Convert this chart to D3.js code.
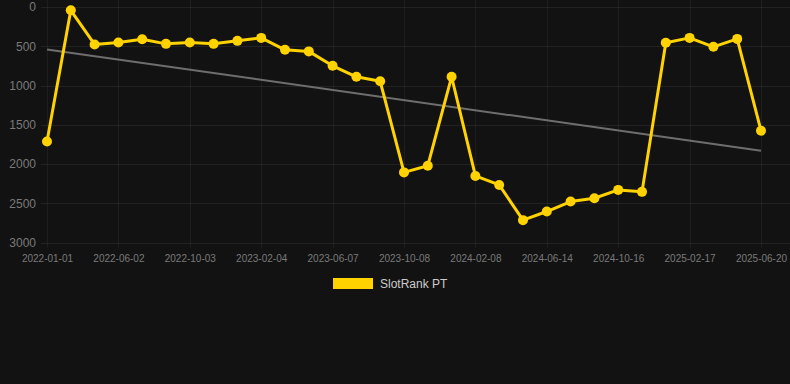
<!DOCTYPE html>
<html>
<head>
<meta charset="utf-8">
<script src="https://cdn.jsdelivr.net/npm/d3@7/dist/d3.min.js"></script>
<style>
  html, body { margin: 0; padding: 0; background: #121212; }
  svg { display: block; font-family: "Liberation Sans", Arial, sans-serif; }
</style>
</head>
<body>
<svg id="chart" width="790" height="384"></svg>
<script>
// Dates of each rank sample (only every third one is labelled on the axis)
const dates = [
    '2022-01-01', '2022-02-20', '2022-04-12', '2022-06-02', '2022-07-23', '2022-09-12',
    '2022-10-03', '2022-11-23', '2023-01-14', '2023-02-04', '2023-03-27', '2023-05-17',
    '2023-06-07', '2023-07-28', '2023-09-17', '2023-10-08', '2023-11-28', '2024-01-18',
    '2024-02-08', '2024-03-30', '2024-05-20', '2024-06-14', '2024-08-04', '2024-09-24',
    '2024-10-16', '2024-12-06', '2025-01-26', '2025-02-17', '2025-04-09', '2025-05-30',
    '2025-06-20'
];

// SlotRank PT values
const ranks = [
    1712, 42, 477, 451, 410, 469, 451, 469, 431, 393,
    545, 565, 748, 888, 946, 2105, 2020, 888, 2150, 2265,
    2713, 2603, 2476, 2434, 2328, 2353, 456, 393, 507, 406,
    1575
];

// Trend line, start and end values
const trend = [540, 1830];

const yTicks = [0, 500, 1000, 1500, 2000, 2500, 3000];
const seriesName = 'SlotRank PT';

const svg = d3.select('#chart');
const margin = { top: 7, right: 29, bottom: 141, left: 47 };
const width = +svg.attr('width');
const height = +svg.attr('height');

// Scales
const xScale = d3.scalePoint()
    .domain(dates)
    .range([margin.left, width - margin.right]);

const yScale = d3.scaleLinear()
    .domain([0, 3000])
    .range([margin.top, height - margin.bottom - 0.3]);

const labelled = dates.filter((d, i) => i % 3 === 0);

// Grid lines
svg.append('g')
    .selectAll('line')
    .data(yTicks)
    .join('line')
    .attr('x1', 41)
    .attr('x2', width)
    .attr('y1', d => Math.round(yScale(d)) + 0.5)
    .attr('y2', d => Math.round(yScale(d)) + 0.5)
    .attr('stroke', 'rgba(255,255,255,0.07)');

svg.append('g')
    .selectAll('line')
    .data(labelled)
    .join('line')
    .attr('x1', d => Math.round(xScale(d)) + 0.5)
    .attr('x2', d => Math.round(xScale(d)) + 0.5)
    .attr('y1', margin.top - 7)
    .attr('y2', yScale(3000) + 5)
    .attr('stroke', 'rgba(255,255,255,0.05)');

// Axes (text only)
const yAxis = svg.append('g')
    .attr('transform', `translate(${margin.left - 8},0)`)
    .call(d3.axisLeft(yScale).tickValues(yTicks).tickSize(0).tickFormat(d3.format('d')));
yAxis.select('.domain').remove();
yAxis.selectAll('text')
    .attr('fill', '#7a7a7a')
    .attr('font-size', 12);

const xAxis = svg.append('g')
    .attr('transform', `translate(0,${yScale(3000) + 9})`)
    .call(d3.axisBottom(xScale).tickValues(labelled).tickSize(0));
xAxis.select('.domain').remove();
xAxis.selectAll('text')
    .attr('fill', '#7a7a7a')
    .attr('font-size', 10)
    .attr('dy', '0.71em');

// Trend line
svg.append('line')
    .attr('x1', xScale(dates[0]))
    .attr('x2', xScale(dates[dates.length - 1]))
    .attr('y1', yScale(trend[0]))
    .attr('y2', yScale(trend[1]))
    .attr('stroke', '#6e6e6e')
    .attr('stroke-width', 2);

// Series line
const line = d3.line()
    .x((d, i) => xScale(dates[i]))
    .y(d => yScale(d));

svg.append('path')
    .datum(ranks)
    .attr('fill', 'none')
    .attr('stroke', '#ffd200')
    .attr('stroke-width', 3)
    .attr('stroke-linejoin', 'round')
    .attr('d', line);

svg.append('g')
    .selectAll('circle')
    .data(ranks)
    .join('circle')
    .attr('cx', (d, i) => xScale(dates[i]))
    .attr('cy', d => yScale(d))
    .attr('r', 5)
    .attr('fill', '#ffd200');

// Legend
const legend = svg.append('g').attr('transform', 'translate(333,278)');
legend.append('rect')
    .attr('width', 40)
    .attr('height', 11)
    .attr('fill', '#ffd200');
legend.append('text')
    .attr('x', 47)
    .attr('y', 6)
    .attr('dy', '0.35em')
    .attr('fill', '#cccccc')
    .attr('font-size', 12)
    .text(seriesName);
</script>
</body>
</html>
